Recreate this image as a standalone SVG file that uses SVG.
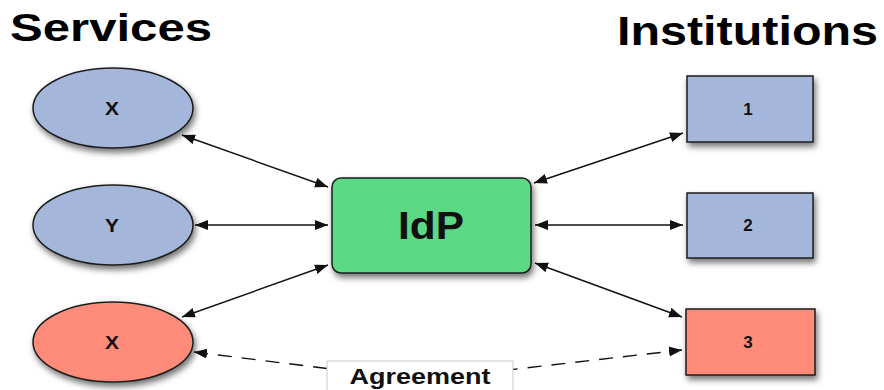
<svg xmlns="http://www.w3.org/2000/svg" width="884" height="390" viewBox="0 0 884 390">
  <style>
    .title { font-family: "Liberation Sans", Arial, sans-serif; font-weight: bold; fill: #000; }
    .lbl { font-family: "Liberation Sans", Arial, sans-serif; font-weight: bold; fill: #111; text-anchor: middle; }
    .node { stroke: #1e1e1e; stroke-width: 1.5; filter: url(#shadow); }
    .blue { fill: #a4b6d9; }
    .red { fill: #ff8c7a; }
    .green { fill: #5cd985; }
    .conn { stroke: #111; stroke-width: 1.4; fill: none; marker-start: url(#arrow); marker-end: url(#arrow); }
    .dash { stroke-dasharray: 14 10; }
  </style>
  <defs>
    <filter id="shadow" x="-20%" y="-20%" width="150%" height="160%">
      <feDropShadow dx="2" dy="4" stdDeviation="3" flood-color="#000" flood-opacity="0.55"/>
    </filter>
    <marker id="arrow" markerUnits="userSpaceOnUse" markerWidth="14" markerHeight="11" refX="13" refY="5" orient="auto-start-reverse" viewBox="0 0 14 11">
      <path d="M0,0 L13,5 L0,10 z" fill="#111"/>
    </marker>
  </defs>
  <rect width="884" height="390" fill="#fff"/>

  <text class="title" x="10" y="41" font-size="39" textLength="202" lengthAdjust="spacingAndGlyphs">Services</text>
  <text class="title" x="617" y="45" font-size="41" textLength="261" lengthAdjust="spacingAndGlyphs">Institutions</text>

  <g id="connectors">
    <line class="conn" x1="182" y1="135" x2="328" y2="187"/>
    <line class="conn" x1="195" y1="225" x2="328" y2="225"/>
    <line class="conn" x1="182" y1="317" x2="328" y2="265"/>
    <line class="conn" x1="534" y1="183" x2="683" y2="133"/>
    <line class="conn" x1="535" y1="225" x2="683" y2="225"/>
    <line class="conn" x1="535" y1="263" x2="682" y2="317"/>
    <polyline class="conn dash" points="194,352 420,380 682,350"/>
    <g id="agreement-label">
      <rect x="327" y="361" width="186" height="40" fill="#fff" stroke="#c8c8c8" stroke-width="1"/>
      <text class="lbl" x="420" y="384" font-size="22" textLength="141" lengthAdjust="spacingAndGlyphs">Agreement</text>
    </g>
  </g>

  <g id="service-x1">
    <ellipse class="node blue" cx="113" cy="108" rx="80" ry="40"/>
    <text class="lbl" x="112" y="115" font-size="18" textLength="14" lengthAdjust="spacingAndGlyphs">X</text>
  </g>
  <g id="service-y">
    <ellipse class="node blue" cx="113" cy="225" rx="80" ry="40"/>
    <text class="lbl" x="112" y="232" font-size="18" textLength="14" lengthAdjust="spacingAndGlyphs">Y</text>
  </g>
  <g id="service-x2">
    <ellipse class="node red" cx="113" cy="342" rx="80" ry="40"/>
    <text class="lbl" x="112" y="349" font-size="18" textLength="14" lengthAdjust="spacingAndGlyphs">X</text>
  </g>

  <g id="idp">
    <rect class="node green" x="332" y="178" width="199" height="95" rx="9"/>
    <text class="lbl" x="431" y="239" font-size="38" textLength="66" lengthAdjust="spacingAndGlyphs">IdP</text>
  </g>

  <g id="inst-1">
    <rect class="node blue" x="687" y="76" width="126" height="66"/>
    <text class="lbl" x="748" y="115" font-size="17">1</text>
  </g>
  <g id="inst-2">
    <rect class="node blue" x="687" y="193" width="126" height="65"/>
    <text class="lbl" x="748" y="231" font-size="17">2</text>
  </g>
  <g id="inst-3">
    <rect class="node red" x="686" y="309" width="129" height="66"/>
    <text class="lbl" x="748" y="348" font-size="17">3</text>
  </g>
</svg>
